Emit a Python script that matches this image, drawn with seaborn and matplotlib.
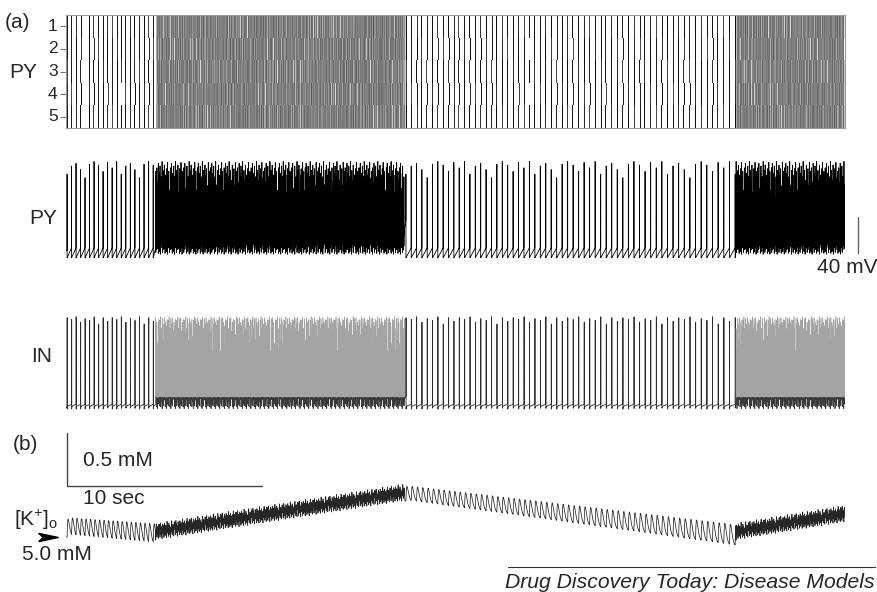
import numpy as np
import pandas as pd
import matplotlib
matplotlib.use("Agg")
import matplotlib.pyplot as plt
import seaborn as sns
from matplotlib.lines import Line2D
from matplotlib.path import Path

# ---------------- values ----------------
DURATION_S = 40.0
PHASE_START_S = [0.0, 4.6, 17.4, 34.4]
PHASE_END_S = [4.6, 17.4, 34.4, 40.0]
PHASE_KIND = ["tonic", "burst", "tonic", "burst"]

# tonic (slow) firing: inter-spike interval at start / end of each tonic phase
TONIC_ISI_START_S = [0.230, 0.272]
TONIC_ISI_END_S = [0.236, 0.292]
TONIC_PEAK_MV = [35, 31, 24, 34, 28, 35, 21, 30, 33, 26, 17, 32]
ROW_JITTER_MS = [0, 6, -5, 9, -3]
ROW_LABELS = ["1", "2", "3", "4", "5"]
PY_TRACE_ROW = 2

# fast (burst) firing of PY cells
BURST_ISI_MS = [24, 41, 17, 33, 58, 21, 29, 46, 19, 37, 27, 52, 15, 31,
                43, 22, 35, 63, 26, 18, 39, 28, 47, 20]
BURST_PEAK_MV = [28, 12, 33, 5, 22, 30, -5, 18, 35, 9, 25, 14, 31, 0,
                 20, 27, 8, 34, 16, 24, 3]
BURST_TROUGH_MV = [-62, -67, -58, -65, -60, -68, -61, -57, -66, -63, -59]

# raster shading of the fast phases (membrane potential, contrast-stretched)
RASTER_BURST_LEVEL_MV = -3.0
RASTER_BURST_GAIN = 3.0
RASTER_PEAK_GAIN = 0.45

# interneuron
IN_DELAY_MS = 6
IN_TONIC_PEAK_MV = [27, 25, 28, 22, 26, 24, 28, 20, 27, 23]
IN_BURST_ISI_MS = [21, 34, 16, 27, 45, 19, 30, 24, 38, 17, 29, 52, 22, 26]
IN_BURST_PEAK_MV = [24, 8, 28, 15, -10, 26, 20, 2, 27, 12, 22, -2, 18, 25, 6]
IN_BURST_TROUGH_MV = [-63, -72, -66, -74, -62, -69, -71, -64]

# cell parameters: (tonic trough, tonic threshold, tonic ramp power,
#                   burst threshold, burst ramp power)
PY_PARAMS = (-72.0, -61.0, 1.0, -30.0, 0.35)
IN_PARAMS = (-74.5, -69.5, 0.25, -60.0, 0.5)

# extracellular potassium (mM), per phase
K_FLOOR_START_MM = [5.00, 4.97, 5.34, 4.97]
K_FLOOR_END_MM = [4.92, 5.34, 4.91, 5.14]
K_PULSE_START_MM = [0.17, 0.10, 0.14, 0.10]
K_PULSE_END_MM = [0.19, 0.10, 0.20, 0.10]
K_TAU_S = [0.055, 0.010, 0.055, 0.010]

# ---------------- build traces ----------------
DT = 0.001
t = np.arange(0.0, DURATION_S, DT)


def tonic_times(phase_i, tonic_j):
    t0, t1 = PHASE_START_S[phase_i], PHASE_END_S[phase_i]
    a, b = TONIC_ISI_START_S[tonic_j], TONIC_ISI_END_S[tonic_j]
    out = []
    tt = t0 + 0.06
    while tt < t1 - 0.03:
        out.append(tt)
        tt += a + (b - a) * (tt - t0) / (t1 - t0)
    return np.array(out)


def cell_spikes(params, tonic_peaks, isi_list, peak_list, trough_list,
                row, jitter_s, shift):
    tr_t, th_t, pw_t, th_b, pw_b = params
    T, P, TR, TH, PW = [], [], [], [], []
    tonic_j = 0
    for i, kind in enumerate(PHASE_KIND):
        if kind == "tonic":
            ts = tonic_times(i, tonic_j) + jitter_s
            tonic_j += 1
            for k, s in enumerate(ts):
                T.append(s); P.append(tonic_peaks[(k + 3 * row) % len(tonic_peaks)])
                TR.append(tr_t); TH.append(th_t); PW.append(pw_t)
        else:
            tt = PHASE_START_S[i] + 0.01
            k = shift + 5 * i
            while tt < PHASE_END_S[i] - 0.01:
                T.append(tt); P.append(peak_list[k % len(peak_list)])
                TR.append(trough_list[k % len(trough_list)]); TH.append(th_b); PW.append(pw_b)
                tt += isi_list[k % len(isi_list)] / 1000.0
                k += 1
    return tuple(np.array(x, dtype=float) for x in (T, P, TR, TH, PW))


def voltage(sp):
    T, P, TR, TH, PW = sp
    idx = np.searchsorted(T, t, side="right") - 1
    before = idx < 0
    ic = np.clip(idx, 0, len(T) - 1)
    nx = np.clip(ic + 1, 0, len(T) - 1)
    isi = np.where(nx > ic, T[nx] - T[ic], 0.25)
    frac = np.clip((t - T[ic] - DT) / np.maximum(isi - DT, DT), 0, 1)
    v = TR[ic] + (TH[ic] - TR[ic]) * frac ** PW[ic]
    v[before] = TH[0] - 3
    si = np.clip(np.round(T / DT).astype(int), 0, len(t) - 1)
    v[si] = P
    return v


py_spikes = [cell_spikes(PY_PARAMS, TONIC_PEAK_MV, BURST_ISI_MS, BURST_PEAK_MV,
                         BURST_TROUGH_MV, r, ROW_JITTER_MS[r] / 1000.0, 7 * r)
             for r in range(len(ROW_LABELS))]
py_v = [voltage(sp) for sp in py_spikes]

in_sp = cell_spikes(IN_PARAMS, IN_TONIC_PEAK_MV, IN_BURST_ISI_MS, IN_BURST_PEAK_MV,
                    IN_BURST_TROUGH_MV, 0,
                    ROW_JITTER_MS[PY_TRACE_ROW] / 1000.0 + IN_DELAY_MS / 1000.0, 3)
in_v = voltage(in_sp)

# potassium driven by the PY spikes
k_trace = np.zeros_like(t)
Tsp = py_spikes[PY_TRACE_ROW][0]
for i in range(len(PHASE_KIND)):
    m = (t >= PHASE_START_S[i]) & (t < PHASE_END_S[i])
    f = (t[m] - PHASE_START_S[i]) / (PHASE_END_S[i] - PHASE_START_S[i])
    k_trace[m] = K_FLOOR_START_MM[i] + (K_FLOOR_END_MM[i] - K_FLOOR_START_MM[i]) * f
    imp = np.zeros_like(t)
    sel = (Tsp >= PHASE_START_S[i]) & (Tsp < PHASE_END_S[i])
    for s in Tsp[sel]:
        fs = (s - PHASE_START_S[i]) / (PHASE_END_S[i] - PHASE_START_S[i])
        imp[int(round(s / DT))] += K_PULSE_START_MM[i] + (K_PULSE_END_MM[i] - K_PULSE_START_MM[i]) * fs
    tau = K_TAU_S[i]
    kt = np.arange(0, 8 * tau, DT)
    kern = (kt / tau) * np.exp(1 - kt / tau)
    k_trace += np.convolve(imp, kern)[: len(t)]

# raster: one column per 50 ms bin
N_BINS = 800
per = len(t) // N_BINS
bin_t = t[: N_BINS * per].reshape(N_BINS, per).mean(axis=1)
tonic_bin = np.zeros(N_BINS, bool)
for i, kind in enumerate(PHASE_KIND):
    if kind == "tonic":
        tonic_bin |= (bin_t >= PHASE_START_S[i]) & (bin_t < PHASE_END_S[i])
raster = []
for v in py_v:
    vb = v[: N_BINS * per].reshape(N_BINS, per)
    mean_b, max_b = vb.mean(axis=1), vb.max(axis=1)
    burst_val = (RASTER_BURST_LEVEL_MV
                 + RASTER_BURST_GAIN * (mean_b - mean_b[~tonic_bin].mean())
                 + RASTER_PEAK_GAIN * (max_b - max_b[~tonic_bin].mean()))
    raster.append(np.where(tonic_bin, max_b, burst_val))
raster_df = pd.DataFrame(np.array(raster), index=ROW_LABELS)

# ---------------- draw ----------------
sns.set_style("white")
plt.rcParams["font.family"] = ["Liberation Sans", "DejaVu Sans"]
plt.rcParams["mathtext.fontset"] = "custom"
plt.rcParams["mathtext.rm"] = "Liberation Sans"
plt.rcParams["mathtext.it"] = "Liberation Sans:italic"

W, H = 877, 592
fig = plt.figure(figsize=(W / 100, H / 100), dpi=100)


def px_axes(x0, y0, x1, y1):
    return fig.add_axes([x0 / W, 1 - y1 / H, (x1 - x0) / W, (y1 - y0) / H])


def ftext(x, y, s, **kw):
    fig.text(x / W, 1 - y / H, s, **kw)


FS = 15
# (a) raster
ax_r = px_axes(66, 15, 845, 128)
sns.heatmap(raster_df, ax=ax_r, cmap="Greys", vmin=-60, vmax=40, cbar=False,
            xticklabels=False, yticklabels=True, linewidths=0,
            antialiased=False, edgecolors="face")
ax_r.tick_params(axis="y", left=True, length=4, width=0.8, color="#777",
                 labelsize=12.5, pad=2, labelrotation=0)
for sp in ax_r.spines.values():
    sp.set_visible(True)
    sp.set_color("#999")
    sp.set_linewidth(0.8)
ax_r.set_xlabel(""); ax_r.set_ylabel("")

# PY trace
PX_MV = 40.0 / 36.0
ax_py = px_axes(66, 150, 845, 265)
sns.lineplot(x=t, y=py_v[PY_TRACE_ROW], ax=ax_py, color="black", linewidth=0.6,
             estimator=None, sort=False, errorbar=None)
ax_py.set_xlim(0, DURATION_S)
ax_py.set_ylim(-80, -80 + 115 * PX_MV)
ax_py.plot([40.67, 40.67], [-66.7, -26.7], color="#666", lw=1.0, clip_on=False)
ax_py.text(40.1, -83.3, "40 mV", ha="center", va="center", fontsize=FS, clip_on=False)

# IN trace
ax_in = px_axes(66, 310, 845, 412)
for i, kind in enumerate(PHASE_KIND):
    m = (t >= PHASE_START_S[i] - DT) & (t <= PHASE_END_S[i])
    if kind == "tonic":
        sns.lineplot(x=t[m], y=in_v[m], ax=ax_in, color="#2a2a2a", linewidth=0.6,
                     estimator=None, sort=False, errorbar=None)
    else:
        sns.lineplot(x=t[m], y=in_v[m], ax=ax_in, color="#a4a4a4", linewidth=0.45,
                     estimator=None, sort=False, errorbar=None)
        sns.lineplot(x=t[m], y=np.minimum(in_v[m], -62.0), ax=ax_in, color="#3a3a3a",
                     linewidth=0.5, estimator=None, sort=False, errorbar=None)
ax_in.set_xlim(0, DURATION_S)
ax_in.set_ylim(-77.8, -77.8 + 102 * PX_MV)

# (b) potassium
PX_MM = 0.5 / 53.0
ax_k = px_axes(66, 430, 845, 560)
sns.lineplot(x=t, y=k_trace, ax=ax_k, color="#262626", linewidth=0.55,
             estimator=None, sort=False, errorbar=None)
ax_k.set_xlim(0, DURATION_S)
ax_k.set_ylim(5.0 - 23 * PX_MM, 5.0 + 107 * PX_MM)
ax_k.plot([0.05, 0.05, 10.05], [5.981, 5.481, 5.481], color="#444", lw=1.0, clip_on=False)
ax_k.text(0.87, 5.726, "0.5 mM", ha="left", va="center", fontsize=FS)
ax_k.text(0.87, 5.365, "10 sec", ha="left", va="center", fontsize=FS)
arrow = Path([(-1, -0.42), (1, 0), (-1, 0.42), (-0.55, 0), (-1, -0.42)])
ax_k.plot([-0.92], [5.0], marker=arrow, markersize=14, color="black", clip_on=False)

for a in (ax_py, ax_in, ax_k):
    a.axis("off")

# labels
ftext(5, 22, "(a)", fontsize=FS, va="center", ha="left")
ftext(9, 72, "PY", fontsize=FS, va="center", ha="left")
ftext(29, 218, "PY", fontsize=FS, va="center", ha="left")
ftext(31, 357, "IN", fontsize=FS, va="center", ha="left")
ftext(13, 444, "(b)", fontsize=FS, va="center", ha="left")
ftext(14, 520, r"[K$^{+}$]$_{\mathrm{o}}$", fontsize=FS, va="center", ha="left")
ftext(22, 555, "5.0 mM", fontsize=FS, va="center", ha="left")

fig.add_artist(Line2D([508 / W, 875 / W], [1 - 567 / H, 1 - 567 / H],
                      transform=fig.transFigure, color="#333", lw=0.8))
ftext(875, 582, "Drug Discovery Today: Disease Models", fontsize=15.2,
      style="italic", ha="right", va="center")

fig.savefig("out.png", dpi=100)
